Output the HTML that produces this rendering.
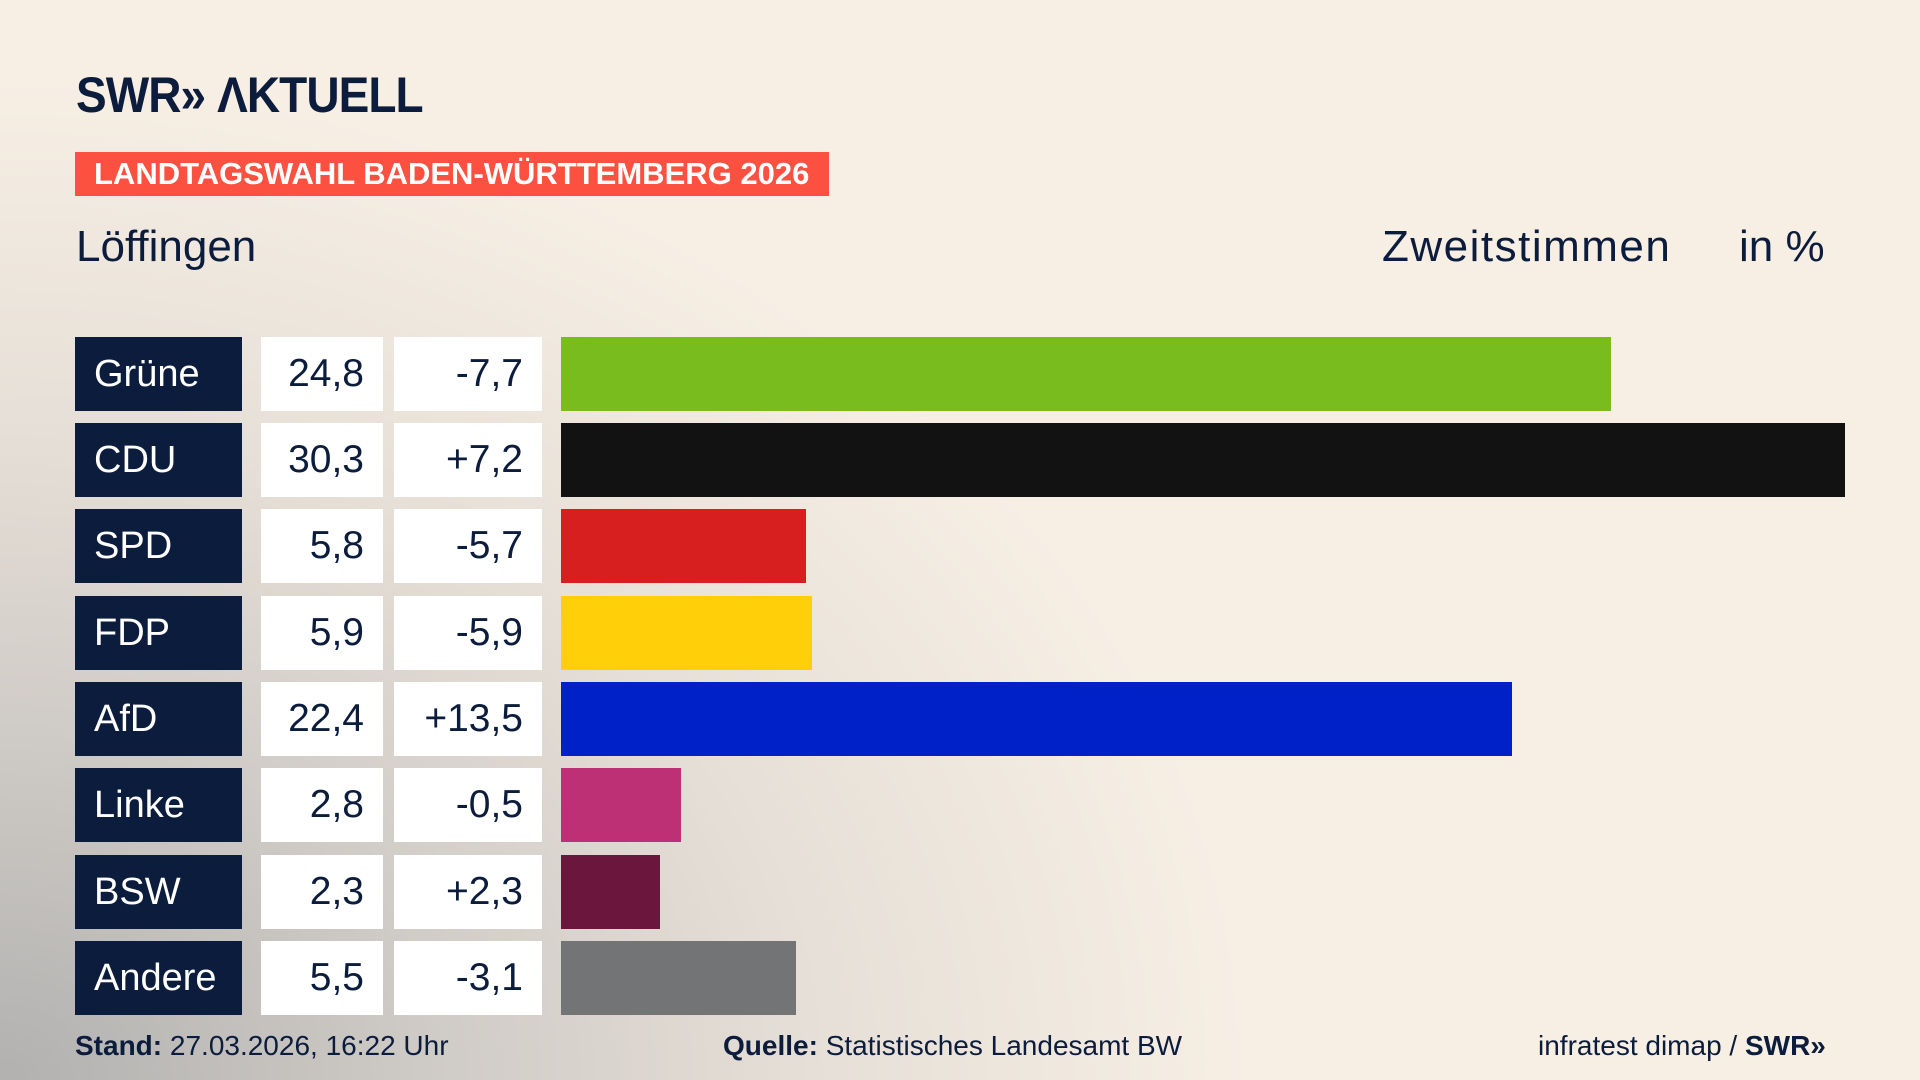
<!DOCTYPE html>
<html><head><meta charset="utf-8"><style>
body{margin:0;width:1920px;height:1080px;overflow:hidden;font-family:"Liberation Sans",sans-serif;color:#0c1c3c;
background:radial-gradient(ellipse 1250px 1000px at 0px 1080px,#b2b1b0 0%,#cfcbc6 35%,#e6dfd7 65%,rgba(247,239,228,0) 100%),#f7efe4;}
.a{position:absolute}
.logo{left:76px;top:66px;font-size:50px;font-weight:bold;letter-spacing:-1px;color:#0c1c3c;transform:scaleX(0.92);transform-origin:left}
.ban{left:75px;top:152px;width:754px;height:44px;background:#fc5140;color:#fff;font-weight:bold;font-size:31px;line-height:44px;text-indent:19px;white-space:nowrap}
.h{font-size:44px;top:222px}
.row{position:absolute;left:0;height:74px;width:1920px}
.p{position:absolute;left:75px;width:167px;height:74px;background:#0c1c3c;color:#fff;font-size:38px;line-height:74px;text-indent:19px}
.v{position:absolute;left:261px;width:122px;height:74px;background:#fff;font-size:39px;line-height:74px;text-align:right;box-sizing:border-box;padding-right:19px}
.d{position:absolute;left:394px;width:148px;height:74px;background:#fff;font-size:39px;line-height:74px;text-align:right;box-sizing:border-box;padding-right:19px}
.b{position:absolute;left:561px;height:74px}
.f{top:1030px;font-size:28px}
</style></head><body>
<div class="a logo">SWR»&nbsp;ΛKTUELL</div>
<div class="a ban">LANDTAGSWAHL BADEN-WÜRTTEMBERG 2026</div>
<div class="a h" style="left:76px">Löffingen</div>
<div class="a h" style="left:1382px;letter-spacing:1.5px">Zweitstimmen</div>
<div class="a h" style="left:1739px">in %</div>

<div class="row" style="top:337px"><div class="p">Grüne</div><div class="v">24,8</div><div class="d">-7,7</div><div class="b" style="width:1050px;background:#78bc1e"></div></div>
<div class="row" style="top:423px"><div class="p">CDU</div><div class="v">30,3</div><div class="d">+7,2</div><div class="b" style="width:1284px;background:#121212"></div></div>
<div class="row" style="top:509px"><div class="p">SPD</div><div class="v">5,8</div><div class="d">-5,7</div><div class="b" style="width:245px;background:#d71f1f"></div></div>
<div class="row" style="top:596px"><div class="p">FDP</div><div class="v">5,9</div><div class="d">-5,9</div><div class="b" style="width:251px;background:#ffcf0a"></div></div>
<div class="row" style="top:682px"><div class="p">AfD</div><div class="v">22,4</div><div class="d">+13,5</div><div class="b" style="width:951px;background:#0021c8"></div></div>
<div class="row" style="top:768px"><div class="p">Linke</div><div class="v">2,8</div><div class="d">-0,5</div><div class="b" style="width:120px;background:#bd3075"></div></div>
<div class="row" style="top:855px"><div class="p">BSW</div><div class="v">2,3</div><div class="d">+2,3</div><div class="b" style="width:99px;background:#6b173d"></div></div>
<div class="row" style="top:941px"><div class="p">Andere</div><div class="v">5,5</div><div class="d">-3,1</div><div class="b" style="width:235px;background:#737476"></div></div>

<div class="a f" style="left:75px"><b>Stand:</b> 27.03.2026, 16:22 Uhr</div>
<div class="a f" style="left:723px"><b>Quelle:</b> Statistisches Landesamt BW</div>
<div class="a f" style="left:1538px">infratest dimap / <b>SWR»</b></div>
</body></html>
